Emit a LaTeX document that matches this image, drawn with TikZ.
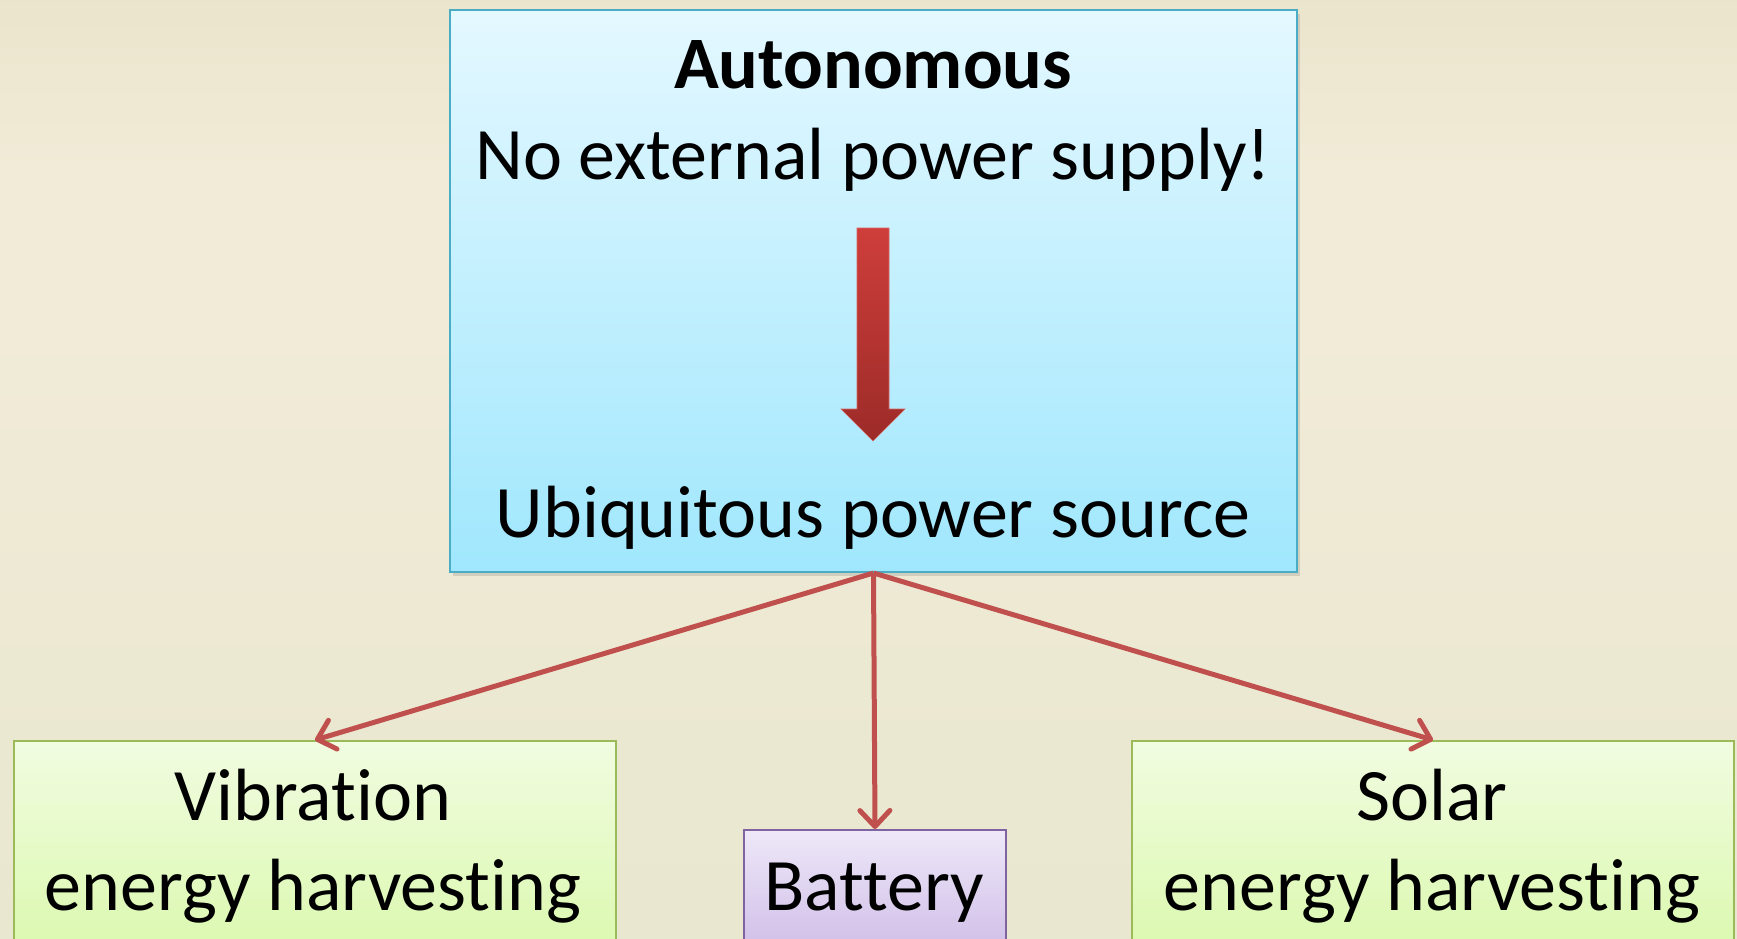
\documentclass[tikz,border=0pt]{standalone}
\usepackage{fontspec}
\setmainfont{Carlito}[Ligatures={NoCommon,NoRequired,NoContextual}]
\usetikzlibrary{arrows.meta,shadows}
\definecolor{bgtop}{RGB}{220,210,176}
\definecolor{bgmid}{RGB}{241,235,215}
\definecolor{bgbot}{RGB}{226,228,201}
\definecolor{bluetop}{RGB}{228,248,255}
\definecolor{bluebot}{RGB}{160,231,253}
\definecolor{blueline}{RGB}{75,172,198}
\definecolor{greentop}{RGB}{241,252,225}
\definecolor{greenbot}{RGB}{216,248,168}
\definecolor{greenline}{RGB}{155,187,89}
\definecolor{purptop}{RGB}{238,232,248}
\definecolor{purpbot}{RGB}{200,180,228}
\definecolor{purpline}{RGB}{128,100,162}
\definecolor{conn}{RGB}{192,80,77}
\definecolor{arrtop}{RGB}{206,62,59}
\definecolor{arrbot}{RGB}{156,43,40}
\pgfdeclareverticalshading{bgshade}{100bp}{color(0bp)=(bgbot); color(58bp)=(bgmid); color(66bp)=(bgmid); color(100bp)=(bgtop)}
\tikzset{
  bigtext/.style={font=\fontsize{74}{88}\selectfont, inner sep=0pt, anchor=base},
  topbox/.style={draw=blueline, line width=2pt, top color=bluetop, bottom color=bluebot, anchor=north west, inner sep=0pt, drop shadow={opacity=0.25, shadow xshift=3pt, shadow yshift=-4pt}},
  greenbox/.style={draw=greenline, line width=2pt, top color=greentop, bottom color=greenbot, anchor=north west, inner sep=0pt},
  purpbox/.style={draw=purpline, line width=2pt, top color=purptop, bottom color=purpbot, anchor=north west, inner sep=0pt},
  connector/.style={draw=conn, line width=5pt, -{Straight Barb[length=16pt,width=30pt,line width=5pt,round]}}
}
\begin{document}
\begin{tikzpicture}[x=1pt,y=-1pt]
\useasboundingbox (0,0) rectangle (1737,939);
\shade[shading=bgshade] (0,0) rectangle (1737,939);
% boxes
\node[topbox, minimum width=847pt, minimum height=562pt] (top) at (449,9) {};
\node[greenbox, minimum width=602pt, minimum height=240pt] (vib) at (13,740) {};
\node[purpbox, minimum width=262pt, minimum height=150pt] (bat) at (743,829) {};
\node[greenbox, minimum width=602pt, minimum height=240pt] (sol) at (1131,740) {};
% texts
\node[bigtext, font=\fontsize{74}{88}\selectfont\bfseries] (t1) at (873,89) {Autonomous};
\node[bigtext] (t2) at (873,179) {No external power supply!};
\node[bigtext] (t3) at (873,537) {Ubiquitous power source};
\node[bigtext] (v1) at (313,820) {Vibration};
\node[bigtext] (v2) at (313,910) {energy harvesting};
\node[bigtext] (b1) at (874,910) {Battery};
\node[bigtext] (s1) at (1432,820) {Solar};
\node[bigtext] (s2) at (1432,910) {energy harvesting};
% block arrow
\shade[top color=arrtop, bottom color=arrbot, draw=arrtop!80!white, line width=0.6pt]
  (857,228) -- (889,228) -- (889,409) -- (905,409) -- (873,441) -- (841,409) -- (857,409) -- cycle;
% connectors
\draw[connector] (top.south) -- (vib.north);
\draw[connector] (top.south) -- (bat.north);
\draw[connector] (top.south) -- (sol.north);
\end{tikzpicture}
\end{document}
